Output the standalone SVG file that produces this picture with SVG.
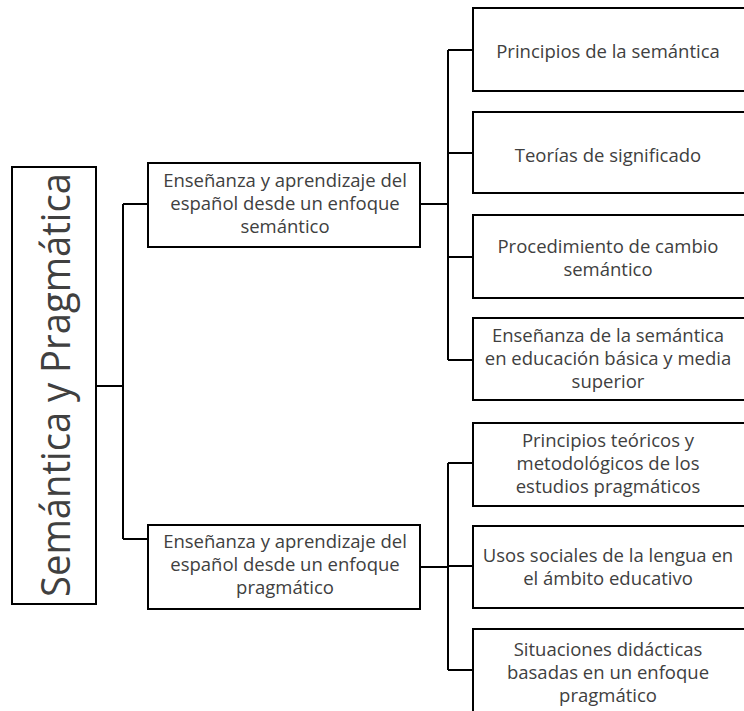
<svg xmlns="http://www.w3.org/2000/svg" width="744" height="711" viewBox="0 0 744 711">
<style>
rect.box{fill:#fff;stroke:#000;stroke-width:2}
.conn path{fill:none;stroke:#000;stroke-width:2}
text{font-family:"Open Sans","Noto Sans",sans-serif;fill:#404040;text-anchor:middle}
.t{font-size:18.5px}
.root{font-size:40px}
</style>
<rect width="744" height="711" fill="#fff"/>
<g class="conn" id="connectors">
<path d="M96,386 H123 M123,204 V539 M123,204 H148 M123,539 H148"/>
<path d="M420,204 H448 M448,50 V360 M448,50 H473 M448,153 H473 M448,257 H473 M448,360 H473"/>
<path d="M420,567 H448 M448,463 V670 M448,463 H473 M448,566 H473 M448,670 H473"/>
</g>
<g id="root">
<rect class="box" x="12" y="167" width="84" height="437"/>
<text class="root" transform="translate(70,385) rotate(-90)" x="0" y="0" textLength="424" lengthAdjust="spacingAndGlyphs">Semántica y Pragmática</text>
</g>
<g id="mid1">
<rect class="box" x="148" y="163" width="272" height="84"/>
<text class="t" x="285" y="187">Enseñanza y aprendizaje del</text>
<text class="t" x="285" y="210">español desde un enfoque</text>
<text class="t" x="285" y="233">semántico</text>
</g>
<g id="mid2">
<rect class="box" x="148" y="525" width="272" height="84"/>
<text class="t" x="285" y="548">Enseñanza y aprendizaje del</text>
<text class="t" x="285" y="571">español desde un enfoque</text>
<text class="t" x="285" y="594">pragmático</text>
</g>
<g id="n1">
<rect class="box" x="473" y="8" width="280" height="83"/>
<text class="t" x="608" y="58">Principios de la semántica</text>
</g>
<g id="n2">
<rect class="box" x="473" y="112" width="280" height="81"/>
<text class="t" x="608" y="162">Teorías de significado</text>
</g>
<g id="n3">
<rect class="box" x="473" y="215" width="280" height="83"/>
<text class="t" x="608" y="253">Procedimiento de cambio</text>
<text class="t" x="608" y="276">semántico</text>
</g>
<g id="n4">
<rect class="box" x="473" y="318" width="280" height="82"/>
<text class="t" x="608" y="342">Enseñanza de la semántica</text>
<text class="t" x="608" y="365">en educación básica y media</text>
<text class="t" x="608" y="388">superior</text>
</g>
<g id="n5">
<rect class="box" x="473" y="423" width="280" height="83"/>
<text class="t" x="608" y="447">Principios teóricos y</text>
<text class="t" x="608" y="470">metodológicos de los</text>
<text class="t" x="608" y="493">estudios pragmáticos</text>
</g>
<g id="n6">
<rect class="box" x="473" y="526" width="280" height="82"/>
<text class="t" x="608" y="562">Usos sociales de la lengua en</text>
<text class="t" x="608" y="585">el ámbito educativo</text>
</g>
<g id="n7">
<rect class="box" x="473" y="629" width="280" height="100"/>
<text class="t" x="608" y="656">Situaciones didácticas</text>
<text class="t" x="608" y="679">basadas en un enfoque</text>
<text class="t" x="608" y="702">pragmático</text>
</g>
</svg>
